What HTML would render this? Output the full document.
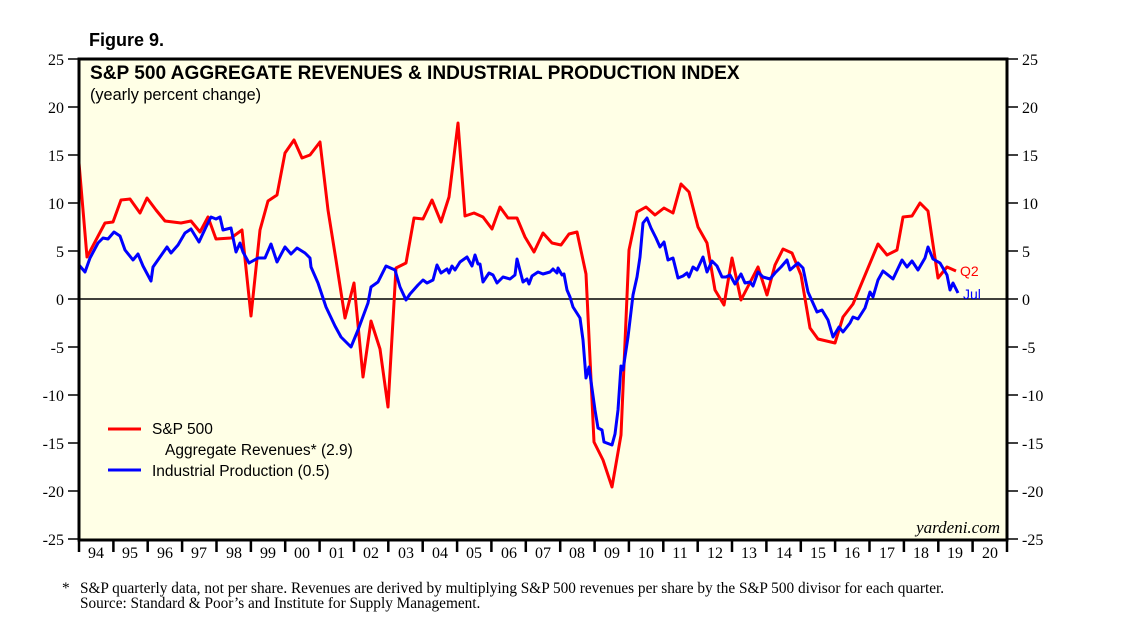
<!DOCTYPE html>
<html><head><meta charset="utf-8"><style>
html,body{margin:0;padding:0;background:#fff;}
svg{display:block;}
.s{font-family:"Liberation Sans",Arial,sans-serif;}
.r{font-family:"Liberation Serif","Times New Roman",serif;}
</style></head><body>
<svg width="1138" height="631" viewBox="0 0 1138 631" xmlns="http://www.w3.org/2000/svg">
<text x="89" y="46" class="s" font-size="18" font-weight="bold">Figure 9.</text>
<rect x="79" y="59" width="928" height="481" fill="#ffffe6"/>
<line x1="79" y1="299" x2="1007" y2="299" stroke="#000" stroke-width="1.5"/>
<g class="r" font-size="16" fill="#000">
<g text-anchor="end">
<text x="64" y="65">25</text><text x="64" y="113">20</text><text x="64" y="161">15</text><text x="64" y="209">10</text><text x="64" y="257">5</text><text x="64" y="305">0</text><text x="64" y="353">-5</text><text x="64" y="401">-10</text><text x="64" y="449">-15</text><text x="64" y="497">-20</text><text x="64" y="545">-25</text>
</g>
<g>
<text x="1022" y="65">25</text><text x="1022" y="113">20</text><text x="1022" y="161">15</text><text x="1022" y="209">10</text><text x="1022" y="257">5</text><text x="1022" y="305">0</text><text x="1022" y="353">-5</text><text x="1022" y="401">-10</text><text x="1022" y="449">-15</text><text x="1022" y="497">-20</text><text x="1022" y="545">-25</text>
</g>
</g>
<g stroke="#000" stroke-width="1.5">
<path d="M68 59H79M68 107H79M68 155H79M68 203H79M68 251H79M68 299H79M68 347H79M68 395H79M68 443H79M68 491H79M68 539H79"/>
<path d="M1007 59H1018M1007 107H1018M1007 155H1018M1007 203H1018M1007 251H1018M1007 299H1018M1007 347H1018M1007 395H1018M1007 443H1018M1007 491H1018M1007 539H1018"/>
</g>
<polyline fill="none" stroke="#ff0000" stroke-width="3" stroke-linejoin="round" points="79,163 87,257 105,223 113,222 121,200 130,199 140,213 147,198 156,210 165,221 181,223 191,221 200,232 208,217 216,239 231,238 242,230 251,316 260,230 268,201 277,195 285,153 294,140 302,158 310,155 320,142 328,210 336,260 345,318 354,283 363,377 371,321 380,349 388,407 396,268 406,263 414,218 423,219 432,200 441,222 449,197 458,123 465,216 474,213 483,217 492,229 500,207 508,218 517,218 525,237 534,252 543,233 552,243 561,245 569,234 577,232 586,274 594,442 603,460 612,487 621,435 629,250 637,212 646,207 655,215 664,208 673,213 681,184 689,192 698,227 707,243 715,290 724,305 732,258 741,300 758,267 767,295 775,265 783,249 792,253 801,275 810,328 818,339 835,343 843,317 853,304 878,244 887,255 897,250 903,217 912,216 920,203 928,211 938,278 947,267 956,271"/>
<polyline fill="none" stroke="#0000ff" stroke-width="3" stroke-linejoin="round" points="79,265 85,272 90,258 98,243 103,238 108,239 114,232 120,236 125,250 133,260 138,254 143,266 151,281 153,267 160,257 167,247 171,253 178,245 185,233 191,229 199,242 206,227 211,217 216,219 220,217 223,230 231,228 236,252 240,243 243,252 249,263 258,258 265,258 271,244 277,262 285,247 291,254 297,248 305,253 310,258 311,267 318,283 326,307 335,326 341,337 351,347 358,330 368,303 371,287 378,282 386,266 395,270 400,287 406,300 410,294 418,285 423,280 427,283 433,280 437,265 441,273 447,269 449,273 452,266 455,270 460,262 467,257 472,266 475,255 478,264 480,264 483,282 489,273 493,275 497,283 503,277 510,279 515,275 517,259 523,282 527,279 529,284 532,276 538,272 543,274 550,272 553,269 557,273 558,268 562,275 564,274 567,290 570,297 573,307 580,318 583,340 586,378 589,367 595,410 598,428 602,430 604,442 612,445 615,434 618,410 621,366 623,370 628,337 633,295 637,277 640,257 643,223 647,218 651,228 656,238 660,247 664,242 668,260 673,258 678,278 683,276 687,273 689,277 693,267 697,270 703,257 707,272 712,261 717,266 722,277 726,277 730,275 735,284 741,274 745,283 750,282 753,286 758,272 763,277 770,279 775,273 781,267 787,260 790,270 798,263 803,268 808,292 817,312 822,310 828,320 833,337 839,327 843,332 850,323 853,317 858,319 865,308 870,292 873,297 878,280 883,271 893,279 902,260 907,267 912,261 918,270 925,258 928,247 933,259 940,263 947,275 950,290 953,283 958,293"/>
<rect x="79" y="59" width="928" height="481" fill="none" stroke="#000" stroke-width="3"/>
<text x="90" y="79" class="s" font-size="19.1" font-weight="bold">S&amp;P 500 AGGREGATE REVENUES &amp; INDUSTRIAL PRODUCTION INDEX</text>
<text x="90" y="100" class="s" font-size="16.3">(yearly percent change)</text>
<line x1="108" y1="429" x2="141" y2="429" stroke="#ff0000" stroke-width="3"/>
<text x="152" y="434" class="s" font-size="15.5">S&amp;P 500</text>
<text x="165" y="455" class="s" font-size="15.5">Aggregate Revenues* (2.9)</text>
<line x1="108" y1="470" x2="141" y2="470" stroke="#0000ff" stroke-width="3"/>
<text x="152" y="476" class="s" font-size="15.5">Industrial Production (0.5)</text>
<text x="960" y="276" class="s" font-size="14" fill="#ff0000">Q2</text>
<text x="963" y="299" class="s" font-size="14" fill="#0000ff">Jul</text>
<text x="1000" y="533" class="r" font-size="17" font-style="italic" text-anchor="end">yardeni.com</text>
<text x="62" y="593" class="r" font-size="15.3">*</text>
<text x="80" y="593" class="r" font-size="15.3">S&amp;P quarterly data, not per share. Revenues are derived by multiplying S&amp;P 500 revenues per share by the S&amp;P 500 divisor for each quarter.</text>
<text x="80" y="608" class="r" font-size="15.3">Source: Standard &amp; Poor’s and Institute for Supply Management.</text>
<g stroke="#000" stroke-width="2.5">
<path d="M79.0 540V552M113.4 540V552M147.7 540V552M182.1 540V552M216.5 540V552M250.9 540V552M285.2 540V552M319.6 540V552M354.0 540V552M388.3 540V552M422.7 540V552M457.1 540V552M491.4 540V552M525.8 540V552M560.2 540V552M594.6 540V552M628.9 540V552M663.3 540V552M697.7 540V552M732.0 540V552M766.4 540V552M800.8 540V552M835.1 540V552M869.5 540V552M903.9 540V552M938.3 540V552M972.6 540V552M1007.0 540V552"/>
</g>
<g class="r" font-size="16" text-anchor="middle">
<text x="96" y="558">94</text><text x="130" y="558">95</text><text x="165" y="558">96</text><text x="199" y="558">97</text><text x="234" y="558">98</text><text x="268" y="558">99</text><text x="302" y="558">00</text><text x="337" y="558">01</text><text x="371" y="558">02</text><text x="406" y="558">03</text><text x="440" y="558">04</text><text x="474" y="558">05</text><text x="509" y="558">06</text><text x="543" y="558">07</text><text x="577" y="558">08</text><text x="612" y="558">09</text><text x="646" y="558">10</text><text x="680" y="558">11</text><text x="715" y="558">12</text><text x="749" y="558">13</text><text x="784" y="558">14</text><text x="818" y="558">15</text><text x="852" y="558">16</text><text x="887" y="558">17</text><text x="921" y="558">18</text><text x="955" y="558">19</text><text x="990" y="558">20</text>
</g>
</svg>
</body></html>
